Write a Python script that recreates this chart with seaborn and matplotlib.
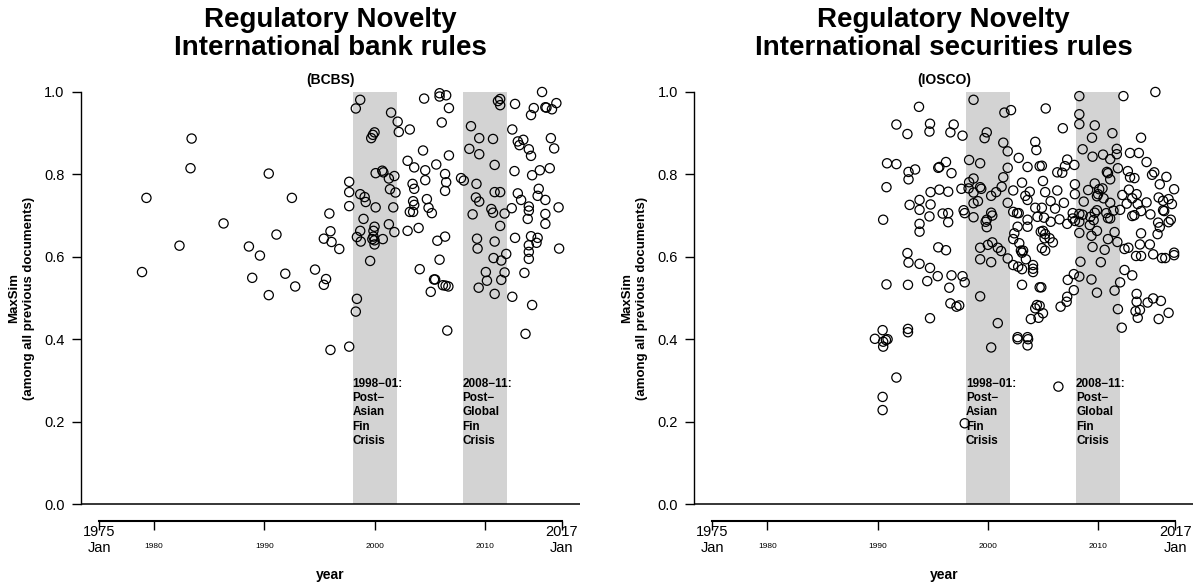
import matplotlib
matplotlib.use("Agg")
import matplotlib.pyplot as plt
import pandas as pd
import seaborn as sns

# ---- data: (year, MaxSim) for each rule document ----
bcbs_year = [
    1978.9, 1979.3, 1982.3, 1983.3, 1983.4, 1986.3, 1988.6, 1988.9, 1989.6, 1990.4,
    1990.4, 1991.1, 1991.9, 1992.5, 1992.8, 1994.6, 1995.4, 1995.4, 1995.6, 1995.9,
    1996.0, 1996.0, 1996.1, 1996.8, 1997.7, 1997.7, 1997.7, 1997.7, 1998.7, 1998.3,
    2001.5, 2002.1, 2002.2, 2003.2, 2000.0, 1999.85, 1999.7, 2004.4, 2006.75, 2003.0,
    2003.6, 2005.6, 2004.6, 2006.4, 2004.6, 2006.5, 2006.4, 2007.85, 2008.1, 2000.1,
    2000.7, 2000.8, 2001.3, 2001.8, 2001.4, 2001.9, 1998.7, 1999.1, 1999.2, 2000.1,
    2001.7, 1999.0, 2001.3, 2001.8, 2000.0, 1999.9, 1998.7, 1998.4, 1998.75, 1999.9,
    2000.0, 2000.0, 1999.8, 2000.75, 1999.6, 1998.4, 1998.3, 2003.45, 2003.6, 2003.5,
    2003.6, 2003.2, 2003.5, 2004.75, 2004.9, 2005.2, 2003.0, 2004.0, 2005.7, 2006.4,
    2005.9, 2004.1, 2005.4, 2005.5, 2006.2, 2006.45, 2006.7, 2005.1, 2006.6, 2004.5,
    2005.9, 2005.9, 2006.5, 2006.75, 2006.1, 2011.4, 2011.2, 2011.4, 2012.75, 2015.2,
    2014.45, 2014.2, 2015.5, 2015.6, 2016.1, 2016.5, 2008.75, 2012.5, 2009.5, 2010.75,
    2013.0, 2013.5, 2013.15, 2014.0, 2014.2, 2016.0, 2016.3, 2008.6, 2009.5, 2010.9,
    2012.7, 2014.3, 2015.0, 2015.9, 2009.25, 2010.9, 2011.4, 2009.2, 2009.5, 2013.0,
    2013.3, 2014.9, 2014.8, 2015.5, 2010.6, 2010.75, 2008.9, 2011.8, 2012.45, 2014.0,
    2014.0, 2013.9, 2015.5, 2015.5, 2016.7, 2011.4, 2009.3, 2009.35, 2010.9, 2012.75,
    2014.2, 2014.8, 2014.7, 2014.0, 2014.0, 2014.0, 2016.75, 2010.8, 2011.5, 2011.95,
    2010.1, 2010.2, 2009.45, 2011.8, 2011.5, 2010.9, 2013.6, 2012.5, 2014.3, 2013.7,
]
bcbs_maxsim = [
    0.563, 0.743, 0.627, 0.815, 0.887, 0.681, 0.625, 0.549, 0.603, 0.802,
    0.507, 0.654, 0.559, 0.743, 0.528, 0.569, 0.644, 0.532, 0.546, 0.705,
    0.662, 0.374, 0.636, 0.619, 0.782, 0.757, 0.723, 0.382, 0.981, 0.960,
    0.950, 0.928, 0.903, 0.909, 0.902, 0.896, 0.888, 0.858, 0.846, 0.833,
    0.817, 0.824, 0.810, 0.801, 0.786, 0.781, 0.760, 0.791, 0.785, 0.803,
    0.809, 0.805, 0.790, 0.796, 0.764, 0.756, 0.752, 0.745, 0.733, 0.720,
    0.720, 0.692, 0.679, 0.660, 0.673, 0.663, 0.663, 0.648, 0.637, 0.649,
    0.640, 0.630, 0.643, 0.643, 0.590, 0.498, 0.467, 0.777, 0.765, 0.735,
    0.726, 0.709, 0.709, 0.740, 0.719, 0.706, 0.663, 0.670, 0.639, 0.649,
    0.593, 0.570, 0.545, 0.545, 0.531, 0.530, 0.528, 0.515, 0.421, 0.984,
    0.997, 0.989, 0.992, 0.961, 0.926, 0.983, 0.978, 0.968, 0.971, 1.000,
    0.961, 0.944, 0.963, 0.962, 0.958, 0.973, 0.917, 0.909, 0.888, 0.886,
    0.880, 0.884, 0.871, 0.861, 0.845, 0.888, 0.863, 0.862, 0.849, 0.823,
    0.808, 0.798, 0.810, 0.815, 0.777, 0.757, 0.757, 0.744, 0.734, 0.754,
    0.738, 0.765, 0.748, 0.738, 0.716, 0.707, 0.703, 0.705, 0.718, 0.722,
    0.712, 0.692, 0.704, 0.680, 0.720, 0.675, 0.644, 0.620, 0.637, 0.646,
    0.650, 0.646, 0.634, 0.628, 0.612, 0.595, 0.620, 0.597, 0.591, 0.607,
    0.563, 0.542, 0.525, 0.562, 0.544, 0.510, 0.561, 0.503, 0.483, 0.413,
]

iosco_year = [
    1993.75, 1991.7, 1992.7, 1994.75, 1994.7, 1996.9, 1996.6, 1990.85, 1991.7, 1992.8,
    1993.4, 1992.8, 1995.5, 1995.6, 1996.2, 1996.7, 1990.8, 1994.8, 1995.6, 1996.4,
    1993.8, 1992.9, 1993.8, 1994.8, 1994.7, 1995.9, 1996.4, 1996.4, 1990.5, 1993.8,
    1993.8, 1995.5, 1996.2, 1992.7, 1992.8, 1993.8, 1994.75, 1995.45, 1994.5, 1996.7,
    1996.5, 1990.8, 1992.75, 1996.6, 1997.15, 1994.75, 1990.45, 1989.75, 1990.5, 1990.75,
    1990.9, 1990.5, 1992.75, 1992.75, 1991.7, 1990.45, 1990.45, 1997.9,
    1997.7, 1998.7, 2001.5, 2002.1, 1999.9, 1999.7, 2001.4, 2001.8, 2004.3, 2004.4,
    2002.8, 2003.6, 2004.7, 1998.3, 1999.3, 2001.8, 1997.6, 1998.3, 1998.7, 1998.25,
    1999.3, 1999.4, 1998.7, 2000.3, 2000.75, 2001.25, 2001.4, 2002.3, 2003.1, 2003.4,
    2003.8, 1997.8, 1997.9, 1998.7, 1999.1, 1998.7, 2000.3, 2000.4, 1999.9, 1999.8,
    1999.9, 2001.8, 2002.3, 2002.65, 2002.8, 2003.6, 2003.6, 2002.7, 2003.6, 2004.3,
    2002.4, 2002.3, 2002.85, 2003.2, 2003.0, 1999.3, 2000.0, 2000.4, 2000.9, 2001.2,
    1999.3, 2000.3, 2001.8, 2002.3, 2002.75, 2003.1, 2003.45, 2003.1, 2004.1, 2004.1,
    2004.1, 2003.1, 2004.7, 2004.45, 2004.3, 2004.7, 2003.9, 2004.6, 2002.7, 2002.7,
    2003.6, 2003.65, 2003.6, 1999.3, 2000.9, 2000.3, 1997.7, 1997.9, 1997.4,
    2008.3, 2012.3, 2015.2, 2005.25, 2008.3, 2008.3, 2006.8, 2009.7, 2009.45, 2011.3,
    2013.9, 2008.6, 2009.5, 2010.45, 2011.1, 2011.7, 2011.7, 2012.9, 2013.7, 2014.4,
    2007.2, 2007.0, 2007.85, 2006.75, 2006.3, 2004.9, 2010.8, 2010.9, 2011.1, 2011.8,
    2012.7, 2012.9, 2013.3, 2014.9, 2015.1, 2016.2, 2015.6, 2016.9, 2005.0, 2005.2,
    2006.3, 2005.7, 2006.1, 2006.9, 2007.9, 2007.9, 2008.7, 2009.1, 2009.7, 2010.1,
    2010.4, 2010.0, 2009.9, 2010.5, 2011.1, 2012.2, 2012.8, 2012.6, 2013.1, 2013.5,
    2013.6, 2014.4, 2015.5, 2015.9, 2016.4, 2016.7, 2013.9, 2014.75, 2015.9, 2016.0,
    2013.1, 2013.3, 2012.0, 2011.4, 2010.75, 2010.9, 2011.1, 2008.6, 2008.3, 2007.7,
    2008.3, 2009.3, 2009.6, 2009.7, 2009.9, 2009.25, 2009.9, 2011.5, 2010.9, 2011.75,
    2008.3, 2009.4, 2009.5, 2010.6, 2004.9, 2005.1, 2005.7, 2006.5, 2007.2, 2007.7,
    2007.9, 2004.5, 2004.8, 2005.0, 2005.2, 2005.6, 2005.9, 2005.15, 2004.9, 2005.2,
    2012.4, 2012.75, 2013.9, 2013.8, 2014.7, 2015.45, 2015.6, 2015.4, 2016.4, 2016.6,
    2008.4, 2010.25, 2013.45, 2013.9, 2015.0, 2015.8, 2016.1, 2016.9, 2016.9, 2012.4,
    2013.1, 2012.0, 2011.5, 2007.8, 2008.3, 2007.25, 2007.8, 2009.4, 2009.9, 2007.2,
    2007.15, 2006.6, 2004.85, 2005.0, 2011.8, 2012.15, 2013.5, 2013.5, 2013.4, 2013.8,
    2013.6, 2014.5, 2015.0, 2015.7, 2015.5, 2016.4, 2006.4,
]
iosco_maxsim = [
    0.964, 0.921, 0.898, 0.923, 0.904, 0.921, 0.902, 0.827, 0.825, 0.806,
    0.812, 0.788, 0.816, 0.818, 0.830, 0.803, 0.769, 0.757, 0.763, 0.758,
    0.738, 0.726, 0.714, 0.727, 0.698, 0.705, 0.706, 0.684, 0.690, 0.680,
    0.661, 0.623, 0.616, 0.609, 0.586, 0.583, 0.573, 0.553, 0.541, 0.555,
    0.525, 0.533, 0.532, 0.487, 0.479, 0.451, 0.422, 0.401, 0.394, 0.398,
    0.400, 0.382, 0.425, 0.417, 0.307, 0.260, 0.228, 0.196,
    0.894, 0.981, 0.950, 0.956, 0.902, 0.888, 0.877, 0.856, 0.879, 0.859,
    0.840, 0.818, 0.820, 0.835, 0.827, 0.816, 0.765, 0.781, 0.790, 0.766,
    0.769, 0.765, 0.756, 0.748, 0.757, 0.770, 0.793, 0.761, 0.780, 0.748,
    0.758, 0.713, 0.706, 0.730, 0.735, 0.696, 0.707, 0.700, 0.690, 0.685,
    0.672, 0.731, 0.709, 0.706, 0.706, 0.690, 0.673, 0.673, 0.738, 0.719,
    0.657, 0.643, 0.633, 0.615, 0.615, 0.622, 0.629, 0.635, 0.622, 0.614,
    0.594, 0.587, 0.596, 0.580, 0.576, 0.570, 0.594, 0.610, 0.580, 0.571,
    0.563, 0.532, 0.526, 0.483, 0.475, 0.481, 0.449, 0.452, 0.405, 0.400,
    0.405, 0.400, 0.385, 0.504, 0.439, 0.380, 0.553, 0.538, 0.482,
    0.990, 0.990, 1.000, 0.960, 0.946, 0.922, 0.912, 0.919, 0.889, 0.900,
    0.889, 0.861, 0.843, 0.848, 0.837, 0.862, 0.849, 0.852, 0.852, 0.830,
    0.836, 0.820, 0.823, 0.804, 0.805, 0.821, 0.806, 0.803, 0.788, 0.815,
    0.808, 0.793, 0.791, 0.799, 0.805, 0.794, 0.776, 0.764, 0.784, 0.757,
    0.761, 0.735, 0.717, 0.731, 0.776, 0.752, 0.734, 0.762, 0.778, 0.764,
    0.766, 0.752, 0.747, 0.742, 0.731, 0.750, 0.763, 0.729, 0.742, 0.752,
    0.728, 0.732, 0.744, 0.736, 0.740, 0.728, 0.711, 0.703, 0.713, 0.711,
    0.699, 0.701, 0.714, 0.712, 0.706, 0.694, 0.693, 0.702, 0.704, 0.706,
    0.685, 0.697, 0.689, 0.707, 0.713, 0.677, 0.663, 0.660, 0.643, 0.636,
    0.658, 0.651, 0.624, 0.617, 0.719, 0.695, 0.685, 0.691, 0.680, 0.693,
    0.687, 0.697, 0.661, 0.663, 0.655, 0.645, 0.635, 0.645, 0.621, 0.615,
    0.619, 0.622, 0.657, 0.630, 0.630, 0.683, 0.672, 0.655, 0.684, 0.690,
    0.588, 0.587, 0.602, 0.602, 0.606, 0.597, 0.597, 0.604, 0.610, 0.568,
    0.555, 0.538, 0.518, 0.558, 0.552, 0.544, 0.519, 0.545, 0.513, 0.503,
    0.491, 0.479, 0.526, 0.463, 0.473, 0.428, 0.510, 0.491, 0.468, 0.471,
    0.452, 0.489, 0.499, 0.493, 0.449, 0.464, 0.285,
]

panel_titles = ["Regulatory Novelty\nInternational bank rules",
                "Regulatory Novelty\nInternational securities rules"]
panel_subtitles = ["(BCBS)", "(IOSCO)"]
crisis_spans = [(1998, 2002), (2008, 2012)]
crisis_labels = ["1998\u221201:\nPost\u2212\nAsian\nFin\nCrisis",
                 "2008\u221211:\nPost\u2212\nGlobal\nFin\nCrisis"]
edge_years = [1975, 2017]
edge_labels = ["1975\nJan", "2017\nJan"]
decade_years = [1980, 1990, 2000, 2010]
decade_labels = ["1980", "1990", "2000", "2010"]
y_ticks = [0.0, 0.2, 0.4, 0.6, 0.8, 1.0]
y_labels = ["0.0", "0.2", "0.4", "0.6", "0.8", "1.0"]

sns.set_theme(style="white")
plt.rcParams["font.family"] = ["Liberation Sans", "DejaVu Sans"]
plt.rcParams.update({"text.color": "black", "axes.labelcolor": "black",
                     "xtick.color": "black", "ytick.color": "black"})

fig = plt.figure(figsize=(11.93, 5.84), dpi=100)
panels = [
    (pd.DataFrame({"year": bcbs_year, "maxsim": bcbs_maxsim}), [0.0675, 0.1087, 0.419, 0.762]),
    (pd.DataFrame({"year": iosco_year, "maxsim": iosco_maxsim}), [0.5816, 0.1087, 0.419, 0.762]),
]

for i, (df, rect) in enumerate(panels):
    ax = fig.add_axes(rect)
    ax.set_facecolor("white")
    ax.set_xlim(1973.32, 2018.68)
    ax.set_ylim(-0.04, 1.04)

    # crisis windows
    for (a, b), lab in zip(crisis_spans, crisis_labels):
        ax.fill_between([a, b], 0, 1, color="#d3d3d3", lw=0, zorder=0)
        ax.text(a, 0.306, lab, ha="left", va="top", fontsize=8.5,
                fontweight="bold", linespacing=1.25, zorder=2)

    ax.axhline(0, color="black", lw=1.1, zorder=1)

    sns.scatterplot(data=df, x="year", y="maxsim", ax=ax, marker="o", s=44,
                    facecolor="none", edgecolor="black", linewidth=0.9,
                    zorder=3, legend=False)

    # axes styling
    for side in ("top", "right"):
        ax.spines[side].set_visible(False)
    ax.spines["left"].set_bounds(0, 1)
    ax.spines["left"].set_linewidth(1.0)
    ax.spines["left"].set_color("black")
    ax.spines["bottom"].set_bounds(1975, 2017)
    ax.spines["bottom"].set_linewidth(1.5)
    ax.spines["bottom"].set_color("black")

    ax.set_yticks(y_ticks)
    ax.set_yticklabels(y_labels, fontsize=10.5)
    ax.tick_params(axis="y", direction="out", length=6.5, width=1,
                   color="black", pad=5, left=True)

    ax.set_xticks(edge_years)
    ax.set_xticklabels(edge_labels, fontsize=10.5)
    ax.set_xticks(decade_years, minor=True)
    ax.set_xticklabels(decade_labels, minor=True, fontsize=6)
    ax.tick_params(axis="x", which="major", direction="out", length=6.5,
                   width=1, color="black", pad=-3.5, bottom=True)
    ax.tick_params(axis="x", which="minor", direction="out", length=6.5,
                   width=1, color="black", pad=10, bottom=True)
    for t in ax.get_xticklabels():
        t.set_linespacing(1.25)
    ax.grid(False)

    ax.set_xlabel("year", fontsize=10, fontweight="bold")
    ax.xaxis.set_label_coords(0.5, -0.106)
    ax.set_ylabel("MaxSim\n(among all previous documents)", fontsize=9.5,
                  fontweight="bold", linespacing=1.25)
    ax.yaxis.set_label_coords(-0.092, 0.5)

    ax.text(0.5, 1.093, panel_titles[i], transform=ax.transAxes, ha="center",
            va="center", fontsize=20, fontweight="bold", linespacing=1.1)
    ax.text(0.5, 0.99, panel_subtitles[i], transform=ax.transAxes, ha="center",
            va="center", fontsize=10, fontweight="bold")

fig.savefig("out.png", dpi=100, facecolor="white")
